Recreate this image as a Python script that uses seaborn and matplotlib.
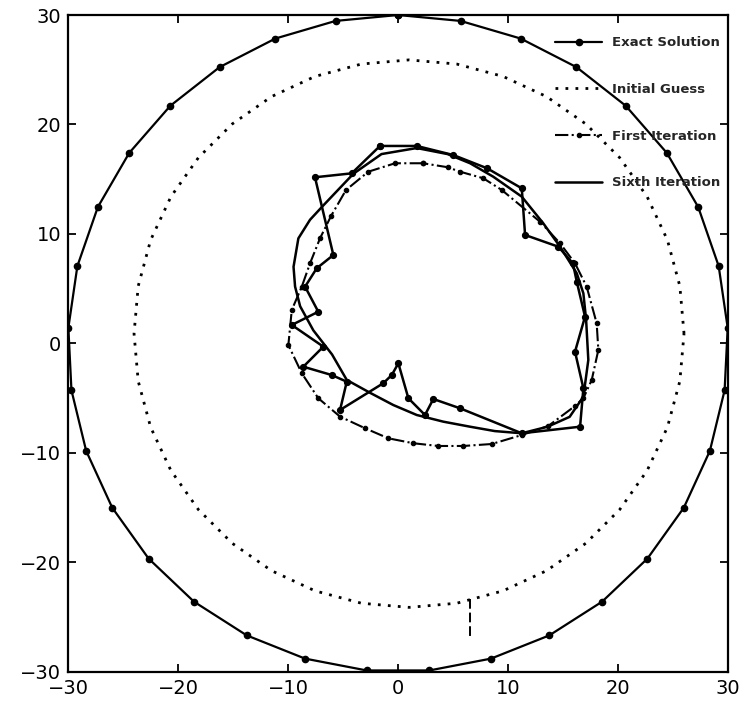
import pandas as pd
import seaborn as sns
import matplotlib.pyplot as plt

# Exact solution, outer boundary (circle of radius 30, 33 nodes)
exact_outer_x = [0.0, -5.68, -11.15, -16.22, -20.70, -24.44, -27.29, -29.15, -29.97, -29.69,
                 -28.35, -25.98, -22.67, -18.55, -13.75, -8.45, -2.85, 2.85, 8.45, 13.75,
                 18.55, 22.67, 25.98, 28.35, 29.69, 29.97, 29.15, 27.29, 24.44, 20.70,
                 16.22, 11.15, 5.68, 0.0]
exact_outer_y = [30.0, 29.46, 27.85, 25.24, 21.71, 17.40, 12.46, 7.07, 1.43, -4.27,
                 -9.81, -15.0, -19.65, -23.58, -26.66, -28.78, -29.86, -29.86, -28.78, -26.66,
                 -23.58, -19.65, -15.0, -9.81, -4.27, 1.43, 7.07, 12.46, 17.40, 21.71,
                 25.24, 27.85, 29.46, 30.0]

# Exact solution, inner (jagged) boundary
exact_inner_x = [-1.64, -4.21, -7.55, -5.88, -7.39, -8.45, -7.25, -9.66, -6.79, -8.61,
                 -6.03, -4.66, -5.27, -1.34, -0.57, 0.03, 0.94, 2.45, 3.21, 5.64,
                 11.25, 16.55, 16.85, 16.09, 17.0, 16.25, 15.9, 14.57, 11.55, 11.25,
                 8.1, 5.03, 1.7, -1.64]
exact_inner_y = [18.04, 15.54, 15.18, 8.08, 6.87, 5.19, 2.90, 1.69, -0.29, -2.12,
                 -2.88, -3.49, -6.07, -3.63, -2.88, -1.81, -5.0, -6.53, -5.07, -5.92,
                 -8.2, -7.6, -4.09, -0.75, 2.45, 5.64, 7.32, 8.84, 9.91, 14.17,
                 16.0, 17.21, 18.04, 18.04]

# Initial guess (dotted)
guess_x = [26.0, 25.62, 24.49, 22.65, 20.15, 17.07, 13.5, 9.55, 5.34, 1.0,
           -3.34, -7.55, -11.5, -15.07, -18.15, -20.65, -22.49, -23.62, -24.0, -23.62,
           -22.49, -20.65, -18.15, -15.07, -11.5, -7.55, -3.34, 1.0, 5.34, 9.55,
           13.5, 17.07, 20.15, 22.65, 24.49, 25.62, 26.0]
guess_y = [0.9, 5.24, 9.45, 13.4, 16.97, 20.05, 22.55, 24.39, 25.52, 25.9,
           25.52, 24.39, 22.55, 20.05, 16.97, 13.4, 9.45, 5.24, 0.9, -3.44,
           -7.65, -11.6, -15.17, -18.25, -20.75, -22.59, -23.72, -24.1, -23.72, -22.59,
           -20.75, -18.25, -15.17, -11.6, -7.65, -3.44, 0.9]

# First iteration (dash-dot with markers)
first_x = [2.27, -0.27, -2.70, -4.73, -6.09, -7.09, -8.0, -8.75, -9.66, -9.97,
           -8.75, -7.25, -5.27, -3.0, -0.88, 1.39, 3.66, 5.94, 8.52, 11.25,
           13.66, 16.09, 16.85, 17.61, 18.21, 18.06, 17.15, 16.09, 14.73, 12.91,
           9.43, 7.75, 5.64, 4.5, 2.27]
first_y = [16.46, 16.46, 15.69, 14.02, 11.64, 9.61, 7.32, 5.19, 3.06, -0.14,
           -2.72, -5.0, -6.68, -7.74, -8.66, -9.11, -9.36, -9.36, -9.18, -8.36,
           -7.53, -5.71, -5.0, -3.33, -0.59, 1.84, 5.19, 7.32, 9.15, 11.12,
           14.02, 15.09, 15.69, 16.1, 16.46]

# Sixth iteration (smooth solid)
sixth_x = [1.7, -1.5, -4.06, -6.8, -8.0, -9.06, -9.5, -9.36, -8.9, -7.7, -6.0,
           -4.66, -2.55, -0.43, 1.7, 4.12, 6.55, 8.8, 11.25, 13.6, 15.6,
           16.85, 17.3, 17.1, 16.85, 16.25, 14.73, 13.2, 11.25, 8.66, 6.55,
           4.5, 1.7]
sixth_y = [17.85, 17.3, 15.5, 12.6, 11.3, 9.6, 7.0, 5.2, 3.4, 1.2, -1.0,
           -3.33, -4.5, -5.62, -6.53, -7.14, -7.6, -8.0, -8.2, -7.6, -6.7,
           -4.86, -1.5, 2.15, 4.58, 6.41, 8.84, 10.98, 13.41, 15.23, 16.46,
           17.3, 17.85]

# small vertical mark near the bottom of the initial guess
mark_x = [6.5, 6.5]
mark_y = [-23.3, -27.0]

ticks = [-30, -20, -10, 0, 10, 20, 30]

sns.set_style("ticks")
plt.rcParams['font.family'] = ['DejaVu Sans']

fig = plt.figure(figsize=(7.46, 7.01), dpi=100)
ax = fig.add_axes([0.0912, 0.0414, 0.8847, 0.9372])

outer = pd.DataFrame({'x': exact_outer_x, 'y': exact_outer_y})
inner = pd.DataFrame({'x': exact_inner_x, 'y': exact_inner_y})
guess = pd.DataFrame({'x': guess_x, 'y': guess_y})
first = pd.DataFrame({'x': first_x, 'y': first_y})
sixth = pd.DataFrame({'x': sixth_x, 'y': sixth_y})

sns.lineplot(data=outer, x='x', y='y', sort=False, estimator=None, ax=ax,
             color='black', lw=1.6, marker='o', ms=4.5, mec='black', mew=1,
             label='Exact Solution')
sns.lineplot(data=guess, x='x', y='y', sort=False, estimator=None, ax=ax,
             color='black', lw=2.0, linestyle=(0, (1, 2.6)), label='Initial Guess')
sns.lineplot(data=first, x='x', y='y', sort=False, estimator=None, ax=ax,
             color='black', lw=1.5, linestyle='-.', marker='o', ms=3.2, mec='black',
             mew=0.8, label='First Iteration')
sns.lineplot(data=sixth, x='x', y='y', sort=False, estimator=None, ax=ax,
             color='black', lw=1.8, label='Sixth Iteration')
sns.lineplot(data=inner, x='x', y='y', sort=False, estimator=None, ax=ax,
             color='black', lw=1.8, marker='o', ms=4.2, mec='black', mew=1)
ax.plot(mark_x, mark_y, color='black', lw=1.4, linestyle=(0, (5, 2)))

ax.set_xlim(-30, 30)
ax.set_ylim(-30, 30)
ax.set_xticks(ticks)
ax.set_yticks(ticks)
ax.set_xlabel('')
ax.set_ylabel('')
ax.tick_params(direction='in', top=True, right=True, length=6, width=1.3,
               labelsize=14, pad=5, color='black', labelcolor='black')
for sp in ax.spines.values():
    sp.set_linewidth(1.6)
    sp.set_color('black')

ax.legend(loc='upper right', bbox_to_anchor=(0.966, 0.948),
          bbox_transform=fig.transFigure, frameon=False, borderpad=0,
          borderaxespad=0, labelspacing=2.55, handlelength=3.6, handletextpad=0.75,
          prop={'weight': 'bold', 'size': 9.5})

fig.savefig('out.png', dpi=100)
